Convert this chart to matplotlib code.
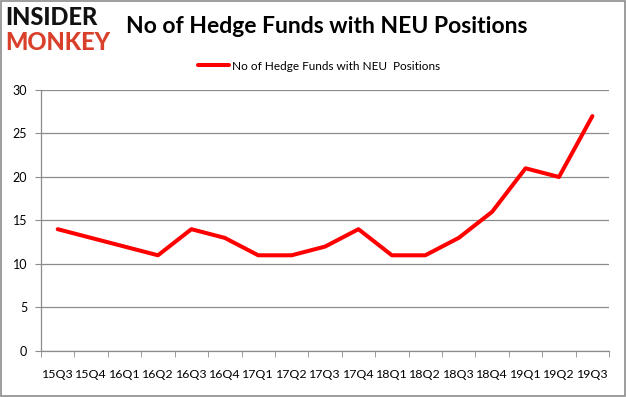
import matplotlib
matplotlib.use("Agg")
import matplotlib.pyplot as plt
from matplotlib.patches import Rectangle

quarters = ["15Q3", "15Q4", "16Q1", "16Q2", "16Q3", "16Q4", "17Q1", "17Q2", "17Q3",
            "17Q4", "18Q1", "18Q2", "18Q3", "18Q4", "19Q1", "19Q2", "19Q3"]
funds = [14, 13, 12, 11, 14, 13, 11, 11, 12, 14, 11, 11, 13, 16, 21, 20, 27]
yticks = [0, 5, 10, 15, 20, 25, 30]
series_name = "No of Hedge Funds with NEU  Positions"
title = "No of Hedge Funds with NEU Positions"

plt.rcParams['font.family'] = ['Lato', 'DejaVu Sans']

fig = plt.figure(figsize=(6.26, 3.97), dpi=100)
fig.patch.set_facecolor("white")
fig.add_artist(Rectangle((0.0016, 0.0025), 0.9968, 0.995, transform=fig.transFigure,
                         fill=False, edgecolor="#8c8c8c", linewidth=1.2))

ax = fig.add_axes([0.0655, 0.1159, 0.9075, 0.6574])
x = list(range(len(quarters)))
ax.plot(x, funds, color="#ff0000", linewidth=2.9, solid_capstyle="round",
        label=series_name)
ax.set_xlim(-0.5, len(quarters) - 0.5)
ax.set_ylim(0, 30)
ax.set_yticks(yticks)
ax.set_yticklabels([str(v) for v in yticks], fontsize=9)
ax.set_xticks(x)
ax.set_xticklabels(quarters, fontsize=8.9)
ax.set_xticks([i - 0.5 for i in range(len(quarters) + 1)], minor=True)
ax.tick_params(axis="x", which="major", length=0, pad=13)
ax.tick_params(axis="x", which="minor", length=4, color="#8c8c8c")
ax.tick_params(axis="y", length=4, color="#8c8c8c", pad=6)
ax.grid(axis="y", color="#8c8c8c", linewidth=0.9)
ax.set_axisbelow(True)
for s in ["top", "right"]:
    ax.spines[s].set_visible(False)
for s in ["left", "bottom"]:
    ax.spines[s].set_color("#8c8c8c")
    ax.spines[s].set_linewidth(0.9)

ax.legend(loc="lower center", bbox_to_anchor=(0.49, 1.03), frameon=False,
          fontsize=8.5, handlelength=2.6, handletextpad=0.3)

fig.text(0.522, 0.932, title, ha="center", va="center", fontsize=16.5,
         fontweight="bold")
fig.text(0.008, 0.955, "INSIDER", ha="left", va="center", fontsize=17,
         fontweight="black", color="#111111")
fig.text(0.008, 0.893, "MONKEY", ha="left", va="center", fontsize=17,
         fontweight="black", color="#d9402b")

fig.savefig("out.png", dpi=100)
